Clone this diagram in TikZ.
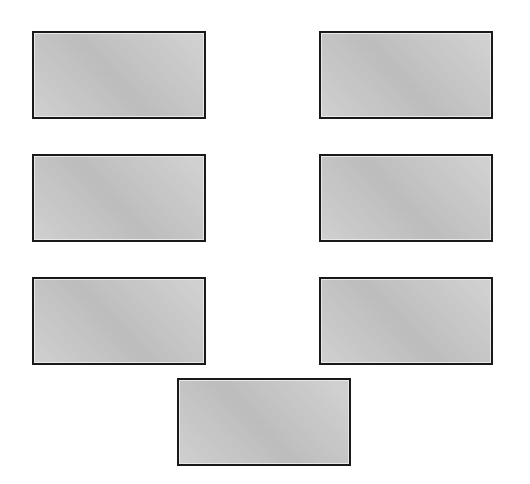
\documentclass[tikz,border=0pt]{standalone}
\newcommand\mypanel[3]{%
  \begin{scope}
    \clip (#2,#3) rectangle ++(172,86);
    \foreach \k in {-96,-92,...,176}{
      \pgfmathsetmacro\v{0.74+0.075*min(abs(\k+2-37)/115,1)}
      \definecolor{bandc}{gray}{\v}
      \fill[bandc] (#2+\k,#3-2) -- (#2+\k+4.6,#3-2) -- (#2+\k+4.6+84,#3+90) -- (#2+\k+84,#3+90) -- cycle;
    }
  \end{scope}
  \draw[innerline] (#2+1.6,#3+1.6) rectangle ++(168.8,82.8);
  \node[panel] (#1) at (#2,#3) {};
}
\begin{document}
\begin{tikzpicture}[x=1pt,y=-1pt,
  panel/.style={draw=black!90, line width=1.6pt, minimum width=172pt, minimum height=86pt, anchor=north west, inner sep=0pt, outer sep=0pt},
  innerline/.style={draw=white!82!gray, line width=0.8pt}]
\useasboundingbox (0,0) rectangle (530,483);
\mypanel{a1}{33}{32}
\mypanel{b1}{320}{32}
\mypanel{a2}{33}{155}
\mypanel{b2}{320}{155}
\mypanel{a3}{33}{278}
\mypanel{b3}{320}{278}
\mypanel{c}{178}{379}
\end{tikzpicture}
\end{document}
